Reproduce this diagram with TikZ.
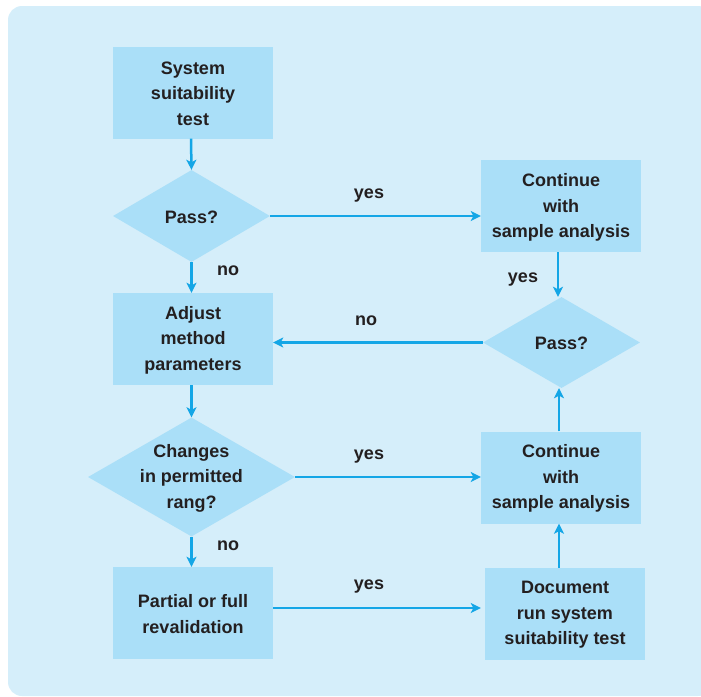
\documentclass[tikz,border=0pt]{standalone}
\usepackage{fontspec}
\setmainfont{Liberation Sans}
\usetikzlibrary{shapes.geometric,arrows.meta}
\definecolor{bgc}{RGB}{213,238,250}
\definecolor{boxc}{RGB}{170,223,248}
\definecolor{arrc}{RGB}{20,166,230}
\definecolor{txtc}{RGB}{35,31,32}
\tikzset{
  boxnode/.style={rectangle, fill=boxc, inner sep=0pt, minimum width=160pt, minimum height=92pt, align=center},
  dianode/.style={diamond, fill=boxc, inner sep=0pt},
  txt/.style={text=txtc, font=\bfseries\fontsize{18}{25.5}\selectfont, align=center, inner sep=0pt},
  lbl/.style={text=txtc, font=\bfseries\fontsize{18}{22}\selectfont, inner sep=0pt},
  arr/.style={draw=arrc, line width=2.5pt, -{Stealth[length=10pt,width=10pt,inset=2.5pt]}},
}
\begin{document}
\begin{tikzpicture}[x=1pt,y=-1pt]
\useasboundingbox (0,0) rectangle (701,696);
\fill[bgc, rounded corners=14pt] (8,6) rectangle (712,696);

% left column
\node[boxnode] (sst) at (193,92.5) {};
\node[txt] at (193,93.5) {System\\suitability\\test};
\node[dianode, minimum width=157pt, minimum height=92pt] (p1) at (191.5,216) {};
\node[txt] at (191.5,217) {Pass?};
\node[boxnode] (adj) at (193,339) {};
\node[txt] at (193,340) {Adjust\\method\\parameters};
\node[dianode, minimum width=207pt, minimum height=119pt] (chg) at (191.5,477) {};
\node[txt] at (191.5,478) {Changes\\in permitted\\rang?};
\node[boxnode] (rev) at (193,613) {};
\node[txt] at (193,614) {Partial or full\\revalidation};

% right column
\node[boxnode] (cont1) at (561,206) {};
\node[txt] at (561,207.5) {Continue\\with\\sample analysis};
\node[dianode, minimum width=157pt, minimum height=91pt] (p2) at (561.5,342.5) {};
\node[txt] at (561.5,343.5) {Pass?};
\node[boxnode] (cont2) at (561,477.5) {};
\node[txt] at (561,478.5) {Continue\\with\\sample analysis};
\node[boxnode] (doc) at (565,614) {};
\node[txt] at (565,615) {Document\\run system\\suitability test};

% connectors
\draw[arr] (sst.south -| 191,0) -- (p1.north);
\draw[arr] (p1.south) -- (adj.north -| p1.south);
\draw[arr] (adj.south -| chg.north) -- (chg.north);
\draw[arr] (chg.south) -- (rev.north -| chg.south);
\draw[arr] (p1.east) -- (cont1.west |- p1.east);
\draw[arr] (cont1.south -| 558,0) -- (p2.north -| 558,0);
\draw[arr] (p2.west) -- (adj.east |- p2.west);
\draw[arr] (chg.east) -- (cont2.west |- chg.east);
\draw[arr] (cont2.north -| 559,0) -- (p2.south -| 559,0);
\draw[arr] (rev.east |- 0,608) -- (cont2.west |- 0,608);
\draw[arr] (doc.north -| 559,0) -- (cont2.south -| 559,0);

% labels
\node[lbl] (l1) at (369,196) {yes};
\node[lbl] (l2) at (228,271) {no};
\node[lbl] (l3) at (523,280) {yes};
\node[lbl] (l4) at (366,321) {no};
\node[lbl] (l5) at (369,457) {yes};
\node[lbl] (l6) at (228,546) {no};
\node[lbl] (l7) at (369,587) {yes};
\end{tikzpicture}
\end{document}
